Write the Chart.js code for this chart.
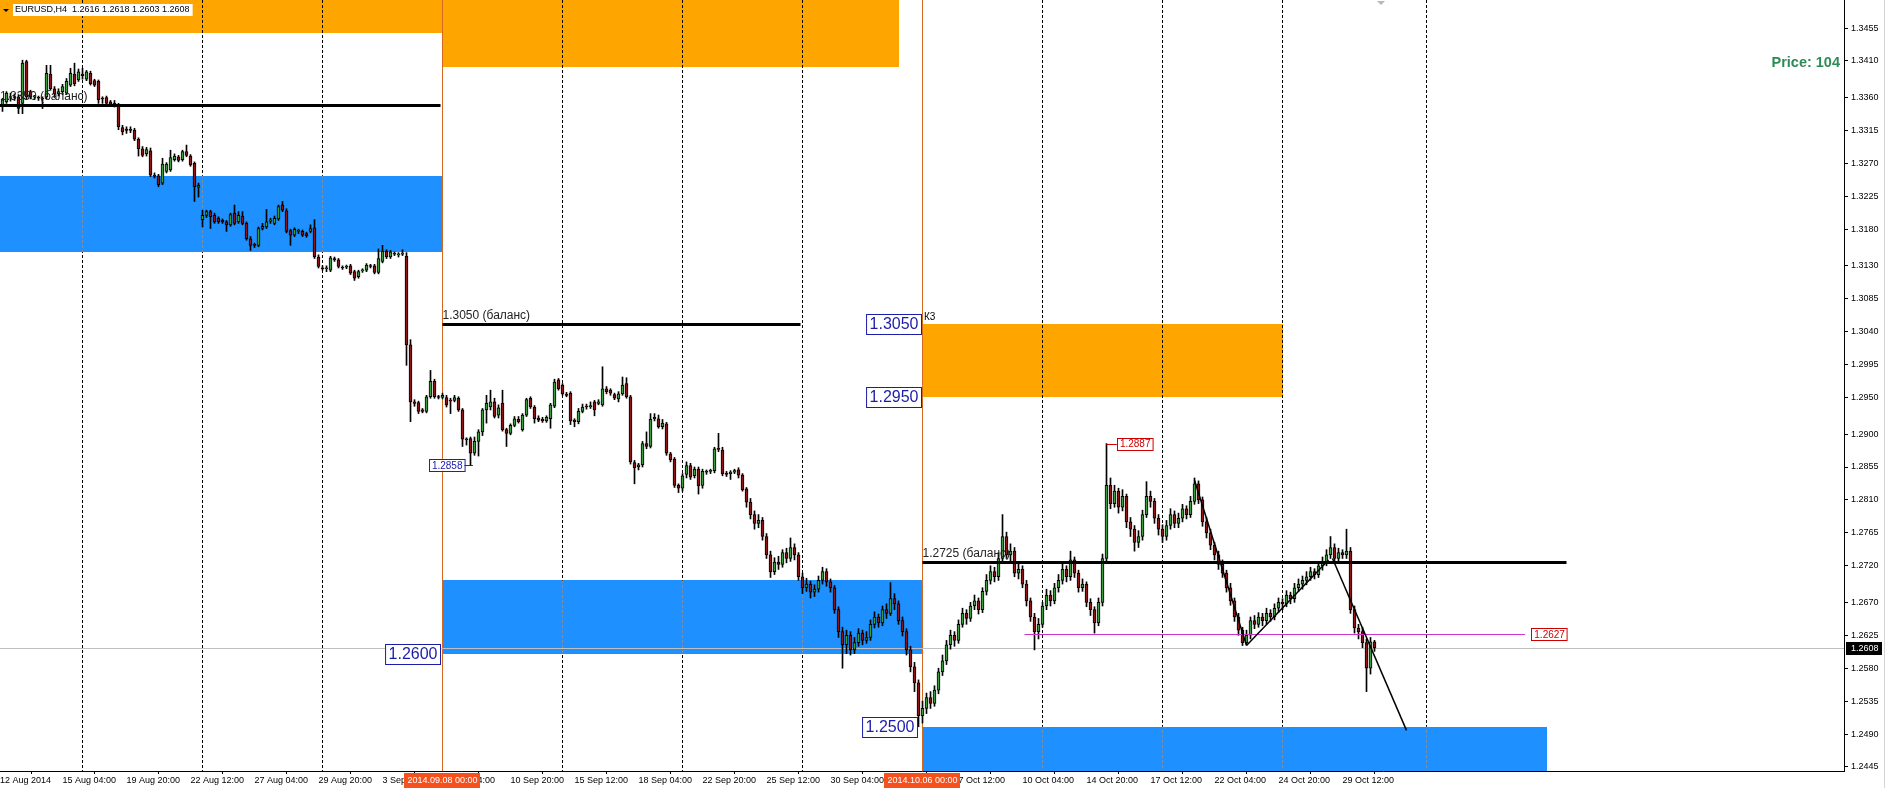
<!DOCTYPE html>
<html>
<head>
<meta charset="utf-8">
<script src="https://cdn.jsdelivr.net/npm/chart.js@4.4.0/dist/chart.umd.min.js"></script>
<style>
  html, body { margin: 0; padding: 0; background: #fff; overflow: hidden; }
  #wrap { position: relative; width: 1886px; height: 788px; }
</style>
</head>
<body>
<div id="wrap"><canvas id="chart"></canvas></div>
<script>
// EURUSD H4 candles, one entry per bar (bar 0 = 12 Aug 2014 ~16:00)
const opens = [
  1.3350,1.3354,1.3360,1.3361,1.3361,1.3352,1.3409,1.3368,1.3361,1.3360,1.3359,1.3361,1.3392,1.3372,1.3365,1.3368,1.3366,1.3377,1.3392,1.3384,
  1.3392,1.3385,1.3393,1.3383,1.3382,1.3359,1.3360,1.3354,1.3352,1.3350,1.3319,1.3317,1.3316,1.3315,1.3303,1.3290,1.3283,1.3287,1.3254,1.3253,
  1.3243,1.3259,1.3261,1.3275,1.3279,1.3275,1.3286,1.3280,1.3270,1.3237,1.3193,1.3199,1.3204,1.3199,1.3195,1.3192,1.3190,1.3186,1.3202,1.3190,
  1.3198,1.3188,1.3167,1.3159,1.3158,1.3181,1.3183,1.3191,1.3188,1.3194,1.3213,1.3205,1.3178,1.3172,1.3177,1.3177,1.3174,1.3177,1.3182,1.3142,
  1.3127,1.3126,1.3124,1.3140,1.3138,1.3128,1.3128,1.3130,1.3122,1.3115,1.3123,1.3124,1.3130,1.3130,1.3121,1.3136,1.3150,1.3142,1.3147,1.3145,
  1.3146,1.3143,1.3022,1.2944,1.2943,1.2933,1.2931,1.2951,1.2972,1.2951,1.2950,1.2950,1.2946,1.2946,1.2949,1.2933,1.2893,1.2894,1.2874,1.2890,
  1.2903,1.2933,1.2937,1.2944,1.2926,1.2942,1.2906,1.2901,1.2912,1.2920,1.2906,1.2926,1.2949,1.2937,1.2922,1.2920,1.2918,1.2921,1.2938,1.2974,
  1.2967,1.2954,1.2956,1.2919,1.2917,1.2931,1.2938,1.2937,1.2944,1.2942,1.2940,1.2962,1.2960,1.2954,1.2948,1.2955,1.2969,1.2951,1.2861,1.2855,
  1.2858,1.2887,1.2883,1.2921,1.2921,1.2910,1.2914,1.2873,1.2866,1.2830,1.2826,1.2845,1.2857,1.2843,1.2852,1.2830,1.2849,1.2849,1.2850,1.2880,
  1.2878,1.2846,1.2846,1.2848,1.2851,1.2844,1.2825,
  1.2807,1.2790,1.2778,1.2782,1.2760,1.2735,1.2712,1.2725,1.2722,1.2738,1.2730,1.2745,1.2735,1.2705,1.2690,1.2695,1.2684,1.2688,1.2700,1.2712,
  1.2698,1.2690,1.2660,1.2630,1.2612,1.2625,1.2605,1.2615,1.2628,1.2618,1.2622,1.2640,1.2650,1.2642,1.2660,1.2655,1.2675,1.2668,1.2645,1.2630,
  1.2605,1.2582,1.2560,1.2515,1.2525,1.2540,1.2532,1.2550,1.2575,1.2590,1.2612,1.2625,1.2618,1.2640,1.2655,1.2648,1.2665,1.2672,1.2660,1.2685,
  1.2700,1.2712,1.2705,1.2730,1.2760,1.2735,1.2740,1.2710,1.2715,1.2695,1.2672,1.2650,1.2630,1.2640,1.2665,1.2680,1.2672,1.2690,1.2700,1.2715,
  1.2705,1.2728,1.2710,1.2690,1.2695,1.2670,1.2660,1.2642,1.2670,1.2730,1.2830,1.2805,1.2822,1.2800,1.2815,1.2780,1.2770,1.2752,1.2760,1.2790,
  1.2815,1.2808,1.2785,1.2770,1.2760,1.2775,1.2790,1.2778,1.2785,1.2798,1.2790,1.2808,1.2832,1.2810,1.2780,1.2765,1.2748,1.2735,1.2722,1.2710,
  1.2690,1.2672,1.2650,1.2632,1.2615,1.2625,1.2645,1.2640,1.2650,1.2645,1.2655,1.2650,1.2662,1.2670,1.2668,1.2680,1.2675,1.2690,1.2695,1.2700,
  1.2705,1.2712,1.2708,1.2720,1.2725,1.2735,1.2745,1.2730,1.2738,1.2735,1.2740,1.2660,1.2635,1.2630,1.2615,1.2580,1.2616
];
const highs = [
  1.3359,1.3368,1.3366,1.3365,1.3364,1.3411,1.3411,1.3370,1.3363,1.3362,1.3361,1.3404,1.3404,1.3375,1.3372,1.3378,1.3386,1.3400,1.3407,1.3399,
  1.3400,1.3397,1.3396,1.3385,1.3384,1.3361,1.3362,1.3356,1.3356,1.3352,1.3322,1.3320,1.3320,1.3318,1.3305,1.3293,1.3292,1.3291,1.3257,1.3255,
  1.3277,1.3271,1.3288,1.3283,1.3281,1.3288,1.3295,1.3282,1.3272,1.3243,1.3206,1.3206,1.3206,1.3202,1.3197,1.3194,1.3192,1.3202,1.3213,1.3204,
  1.3204,1.3190,1.3170,1.3161,1.3183,1.3188,1.3207,1.3195,1.3198,1.3213,1.3218,1.3208,1.3180,1.3182,1.3180,1.3179,1.3176,1.3186,1.3193,1.3145,
  1.3130,1.3130,1.3143,1.3142,1.3140,1.3130,1.3131,1.3132,1.3124,1.3124,1.3126,1.3133,1.3132,1.3132,1.3153,1.3158,1.3152,1.3151,1.3149,1.3148,
  1.3152,1.3148,1.3029,1.2947,1.2945,1.2935,1.2953,1.2987,1.2975,1.2953,1.2956,1.2953,1.2949,1.2953,1.2951,1.2935,1.2895,1.2896,1.2896,1.2906,
  1.2935,1.2953,1.2960,1.2949,1.2940,1.2960,1.2908,1.2914,1.2924,1.2924,1.2928,1.2949,1.2951,1.2939,1.2925,1.2923,1.2925,1.2942,1.2975,1.2976,
  1.2969,1.2957,1.2958,1.2921,1.2935,1.2941,1.2941,1.2944,1.2946,1.2947,1.2992,1.2965,1.2962,1.2956,1.2958,1.2978,1.2977,1.2953,1.2864,1.2860,
  1.2890,1.2903,1.2928,1.2928,1.2926,1.2920,1.2916,1.2875,1.2868,1.2832,1.2846,1.2862,1.2860,1.2855,1.2855,1.2852,1.2851,1.2852,1.2882,1.2901,
  1.2882,1.2849,1.2850,1.2852,1.2854,1.2846,1.2827,
  1.2812,1.2795,1.2790,1.2786,1.2764,1.2740,1.2731,1.2733,1.2742,1.2744,1.2758,1.2750,1.2738,1.2710,1.2703,1.2699,1.2694,1.2706,1.2718,1.2716,
  1.2702,1.2693,1.2664,1.2636,1.2632,1.2630,1.2622,1.2634,1.2632,1.2630,1.2646,1.2657,1.2654,1.2665,1.2668,1.2697,1.2682,1.2672,1.2650,1.2634,
  1.2610,1.2588,1.2564,1.2535,1.2546,1.2548,1.2556,1.2580,1.2598,1.2618,1.2632,1.2630,1.2646,1.2662,1.2660,1.2670,1.2680,1.2676,1.2690,1.2708,
  1.2720,1.2718,1.2738,1.2790,1.2766,1.2750,1.2745,1.2722,1.2720,1.2700,1.2676,1.2655,1.2648,1.2670,1.2688,1.2686,1.2696,1.2708,1.2722,1.2720,
  1.2740,1.2732,1.2714,1.2702,1.2698,1.2675,1.2664,1.2676,1.2736,1.2887,1.2840,1.2830,1.2826,1.2824,1.2818,1.2786,1.2775,1.2768,1.2796,1.2835,
  1.2822,1.2812,1.2790,1.2776,1.2782,1.2798,1.2795,1.2792,1.2804,1.2802,1.2815,1.2840,1.2836,1.2814,1.2786,1.2770,1.2752,1.2740,1.2728,1.2714,
  1.2696,1.2676,1.2655,1.2636,1.2632,1.2650,1.2652,1.2656,1.2655,1.2662,1.2660,1.2668,1.2676,1.2675,1.2686,1.2684,1.2696,1.2702,1.2706,1.2712,
  1.2718,1.2716,1.2726,1.2732,1.2742,1.2760,1.2750,1.2744,1.2742,1.2770,1.2745,1.2665,1.2640,1.2636,1.2620,1.2622,1.2618
];
const lows = [
  1.3341,1.3352,1.3355,1.3356,1.3338,1.3338,1.3358,1.3358,1.3357,1.3356,1.3345,1.3358,1.3370,1.3360,1.3362,1.3364,1.3364,1.3375,1.3376,1.3382,
  1.3385,1.3383,1.3377,1.3375,1.3352,1.3352,1.3350,1.3349,1.3347,1.3316,1.3309,1.3311,1.3312,1.3301,1.3280,1.3279,1.3280,1.3252,1.3250,1.3238,
  1.3241,1.3257,1.3259,1.3273,1.3272,1.3273,1.3279,1.3266,1.3218,1.3224,1.3183,1.3196,1.3181,1.3188,1.3188,1.3188,1.3177,1.3184,1.3186,1.3188,
  1.3186,1.3165,1.3151,1.3155,1.3156,1.3179,1.3181,1.3188,1.3186,1.3192,1.3204,1.3175,1.3158,1.3170,1.3174,1.3170,1.3169,1.3175,1.3140,1.3127,
  1.3124,1.3122,1.3122,1.3136,1.3127,1.3125,1.3126,1.3118,1.3110,1.3113,1.3121,1.3122,1.3127,1.3119,1.3119,1.3134,1.3140,1.3140,1.3144,1.3142,
  1.3144,1.2994,1.2917,1.2938,1.2928,1.2929,1.2929,1.2949,1.2949,1.2948,1.2948,1.2937,1.2928,1.2944,1.2931,1.2883,1.2885,1.2858,1.2871,1.2870,
  1.2898,1.2915,1.2933,1.2922,1.2922,1.2904,1.2883,1.2899,1.2910,1.2915,1.2904,1.2924,1.2935,1.2915,1.2917,1.2916,1.2916,1.2908,1.2936,1.2960,
  1.2953,1.2951,1.2913,1.2910,1.2914,1.2929,1.2934,1.2935,1.2925,1.2940,1.2938,1.2955,1.2953,1.2947,1.2944,1.2953,1.2949,1.2859,1.2832,1.2851,
  1.2855,1.2880,1.2881,1.2918,1.2908,1.2907,1.2871,1.2862,1.2827,1.2820,1.2822,1.2840,1.2838,1.2840,1.2818,1.2826,1.2845,1.2846,1.2847,1.2876,
  1.2843,1.2842,1.2838,1.2846,1.2840,1.2822,1.2800,
  1.2784,1.2770,1.2772,1.2755,1.2730,1.2704,1.2708,1.2715,1.2718,1.2724,1.2726,1.2728,1.2700,1.2682,1.2685,1.2676,1.2678,1.2684,1.2695,1.2692,
  1.2684,1.2655,1.2622,1.2580,1.2600,1.2598,1.2600,1.2610,1.2612,1.2614,1.2618,1.2635,1.2636,1.2638,1.2648,1.2652,1.2660,1.2640,1.2624,1.2598,
  1.2575,1.2548,1.2500,1.2505,1.2518,1.2525,1.2528,1.2545,1.2570,1.2585,1.2606,1.2610,1.2614,1.2636,1.2640,1.2644,1.2660,1.2654,1.2656,1.2680,
  1.2695,1.2698,1.2700,1.2725,1.2730,1.2726,1.2705,1.2702,1.2690,1.2665,1.2644,1.2605,1.2620,1.2636,1.2660,1.2665,1.2668,1.2684,1.2695,1.2698,
  1.2700,1.2704,1.2684,1.2685,1.2664,1.2652,1.2628,1.2638,1.2665,1.2725,1.2798,1.2800,1.2792,1.2795,1.2772,1.2760,1.2740,1.2745,1.2755,1.2786,
  1.2800,1.2778,1.2762,1.2752,1.2755,1.2770,1.2772,1.2772,1.2780,1.2784,1.2786,1.2804,1.2805,1.2774,1.2758,1.2742,1.2728,1.2715,1.2704,1.2684,
  1.2666,1.2644,1.2625,1.2611,1.2612,1.2620,1.2634,1.2636,1.2638,1.2640,1.2644,1.2646,1.2656,1.2660,1.2664,1.2668,1.2670,1.2685,1.2688,1.2694,
  1.2700,1.2702,1.2704,1.2714,1.2720,1.2730,1.2724,1.2726,1.2730,1.2730,1.2655,1.2628,1.2620,1.2608,1.2548,1.2572,1.2603
];
const closes = [
  1.3357,1.3366,1.3361,1.3360,1.3345,1.3407,1.3361,1.3361,1.3361,1.3359,1.3358,1.3393,1.3372,1.3365,1.3368,1.3375,1.3382,1.3393,1.3379,1.3395,
  1.3390,1.3395,1.3379,1.3377,1.3357,1.3358,1.3352,1.3351,1.3350,1.3320,1.3313,1.3315,1.3315,1.3303,1.3290,1.3281,1.3289,1.3254,1.3252,1.3241,
  1.3269,1.3269,1.3278,1.3280,1.3274,1.3286,1.3281,1.3268,1.3238,1.3240,1.3199,1.3204,1.3197,1.3190,1.3190,1.3190,1.3186,1.3200,1.3188,1.3199,
  1.3188,1.3167,1.3158,1.3158,1.3181,1.3184,1.3190,1.3192,1.3195,1.3211,1.3206,1.3177,1.3172,1.3180,1.3177,1.3172,1.3171,1.3181,1.3142,1.3129,
  1.3126,1.3127,1.3141,1.3138,1.3129,1.3127,1.3129,1.3120,1.3113,1.3122,1.3124,1.3131,1.3129,1.3121,1.3140,1.3150,1.3142,1.3149,1.3146,1.3145,
  1.3147,1.3022,1.2944,1.2942,1.2931,1.2931,1.2951,1.2972,1.2951,1.2950,1.2953,1.2940,1.2945,1.2950,1.2933,1.2893,1.2892,1.2874,1.2890,1.2903,
  1.2933,1.2942,1.2944,1.2924,1.2936,1.2906,1.2901,1.2912,1.2921,1.2917,1.2926,1.2947,1.2937,1.2921,1.2919,1.2918,1.2923,1.2940,1.2971,1.2962,
  1.2955,1.2953,1.2918,1.2917,1.2931,1.2937,1.2937,1.2939,1.2933,1.2944,1.2962,1.2958,1.2956,1.2949,1.2955,1.2967,1.2951,1.2862,1.2854,1.2858,
  1.2887,1.2883,1.2920,1.2923,1.2910,1.2915,1.2874,1.2865,1.2830,1.2826,1.2843,1.2857,1.2841,1.2852,1.2829,1.2849,1.2848,1.2850,1.2880,1.2879,
  1.2846,1.2845,1.2848,1.2850,1.2844,1.2824,1.2807,
  1.2790,1.2778,1.2782,1.2760,1.2735,1.2712,1.2725,1.2722,1.2738,1.2730,1.2745,1.2735,1.2705,1.2690,1.2695,1.2684,1.2688,1.2700,1.2712,1.2698,
  1.2690,1.2660,1.2630,1.2612,1.2625,1.2605,1.2615,1.2628,1.2618,1.2622,1.2640,1.2650,1.2642,1.2660,1.2655,1.2675,1.2668,1.2645,1.2630,1.2605,
  1.2582,1.2560,1.2515,1.2525,1.2540,1.2532,1.2550,1.2575,1.2590,1.2612,1.2625,1.2618,1.2640,1.2655,1.2648,1.2665,1.2672,1.2660,1.2685,1.2700,
  1.2712,1.2705,1.2730,1.2760,1.2735,1.2740,1.2710,1.2715,1.2695,1.2672,1.2650,1.2630,1.2640,1.2665,1.2680,1.2672,1.2690,1.2700,1.2715,1.2705,
  1.2728,1.2710,1.2690,1.2695,1.2670,1.2660,1.2642,1.2670,1.2730,1.2830,1.2805,1.2822,1.2800,1.2815,1.2780,1.2770,1.2752,1.2760,1.2790,1.2815,
  1.2808,1.2785,1.2770,1.2760,1.2775,1.2790,1.2778,1.2785,1.2798,1.2790,1.2808,1.2832,1.2810,1.2780,1.2765,1.2748,1.2735,1.2722,1.2710,1.2690,
  1.2672,1.2650,1.2632,1.2615,1.2625,1.2645,1.2640,1.2650,1.2645,1.2655,1.2650,1.2662,1.2670,1.2668,1.2680,1.2675,1.2690,1.2695,1.2700,1.2705,
  1.2712,1.2708,1.2720,1.2725,1.2735,1.2745,1.2730,1.2738,1.2735,1.2740,1.2660,1.2635,1.2630,1.2615,1.2580,1.2616,1.2608
];

const priceTicks = [1.3455,1.3410,1.3360,1.3315,1.3270,1.3225,1.3180,1.3130,1.3085,1.3040,1.2995,1.2950,
  1.2900,1.2855,1.2810,1.2765,1.2720,1.2670,1.2625,1.2580,1.2535,1.2490,1.2445];
const timeTickBars = [-0.625,15,31,47,63,79,95,111,127,143,159,175,191,207,223,239,255,271,287,303,319,335];
const timeTickLabels = ['12 Aug 2014','15 Aug 04:00','19 Aug 20:00','22 Aug 12:00','27 Aug 04:00','29 Aug 20:00',
  '3 Sep 12:00','8 Sep 04:00','10 Sep 20:00','15 Sep 12:00','18 Sep 04:00','22 Sep 20:00','25 Sep 12:00',
  '30 Sep 04:00','2 Oct 20:00','7 Oct 12:00','10 Oct 04:00','14 Oct 20:00','17 Oct 12:00','22 Oct 04:00',
  '24 Oct 20:00','29 Oct 12:00'];
const gridBars = [20,50,80,140,170,200,260,290,320,356];
const periodMarks = [{bar:110, text:'2014.09.08 00:00'}, {bar:230, text:'2014.10.06 00:00'}];

const lastPrice = 1.2608;
const header = 'EURUSD,H4  1.2616 1.2618 1.2603 1.2608';

const ORANGE = '#ffa500', BLUE = '#1e90ff';
const zones = [
  {from:-0.625, to:110, top:1.3500, bottom:1.3448, color:ORANGE},
  {from:110, to:224, top:1.3500, bottom:1.3402, color:ORANGE},
  {from:-0.625, to:110, top:1.3253, bottom:1.3149, color:BLUE},
  {from:110, to:230, top:1.2700, bottom:1.2600, color:BLUE},
  {from:230, to:320, top:1.3050, bottom:1.2950, color:ORANGE},
  {from:230, to:386, top:1.2500, bottom:1.2400, color:BLUE}
];
const balanceLines = [
  {from:-0.625, to:109.5, price:1.3350, text:'1.3350 (баланс)'},
  {from:110, to:199.5, price:1.3050, text:'1.3050 (баланс)'},
  {from:230, to:391, price:1.2725, text:'1.2725 (баланс)'}
];
const levelTags = [
  {right:229.6, price:1.3050, text:'1.3050'},
  {right:229.6, price:1.2950, text:'1.2950'},
  {right:109.4, price:1.2600, text:'1.2600'},
  {right:228.6, price:1.2500, text:'1.2500'}
];
const trendLines = [
  [298, 1.2837, 311, 1.2611],
  [311, 1.2611, 331.5, 1.2728],
  [332.5, 1.2730, 351, 1.2495]
];

const UP = '#3e9a3e', DOWN = '#8c1414';
const bars = closes.map((c, i) => i);

const overlay = {
  id: 'overlay',
  beforeDatasetsDraw(chart) {
    const {ctx, chartArea: a, scales: {x, y}} = chart;
    ctx.save();
    ctx.beginPath();
    ctx.rect(a.left, a.top, a.right - a.left, a.bottom - a.top);
    ctx.clip();
    zones.forEach(z => {
      const x0 = Math.round(x.getPixelForValue(z.from)), x1 = Math.round(x.getPixelForValue(z.to));
      const y0 = Math.round(y.getPixelForValue(z.top)), y1 = Math.round(y.getPixelForValue(z.bottom));
      ctx.fillStyle = z.color;
      ctx.fillRect(x0, y0, x1 - x0, y1 - y0);
    });
    // dashed time grid (grey where it crosses the blue zones)
    ctx.lineWidth = 1;
    ctx.setLineDash([3, 2]);
    gridBars.forEach(b => {
      const px = Math.floor(x.getPixelForValue(b)) + 0.5;
      ctx.strokeStyle = '#000';
      ctx.beginPath(); ctx.moveTo(px, a.top); ctx.lineTo(px, a.bottom); ctx.stroke();
      zones.filter(z => z.color === BLUE && b > z.from && b < z.to).forEach(z => {
        const y0 = y.getPixelForValue(z.top), y1 = y.getPixelForValue(z.bottom);
        ctx.save();
        ctx.beginPath(); ctx.rect(px - 2, y0, 4, y1 - y0); ctx.clip();
        ctx.strokeStyle = '#7f8f9f';
        ctx.beginPath(); ctx.moveTo(px, a.top); ctx.lineTo(px, a.bottom); ctx.stroke();
        ctx.restore();
      });
    });
    ctx.setLineDash([]);
    // period separators
    ctx.strokeStyle = '#d2691e';
    periodMarks.forEach(m => {
      const px = Math.floor(x.getPixelForValue(m.bar)) + 0.5;
      ctx.beginPath(); ctx.moveTo(px, a.top); ctx.lineTo(px, a.bottom); ctx.stroke();
    });
    // bid line
    const py = Math.round(y.getPixelForValue(lastPrice)) + 0.5;
    ctx.strokeStyle = '#c0c0c0';
    ctx.beginPath(); ctx.moveTo(a.left, py); ctx.lineTo(a.right, py); ctx.stroke();
    ctx.restore();
  },
  afterDatasetsDraw(chart) {
    const {ctx, chartArea: a, scales: {x, y}} = chart;
    ctx.save();
    ctx.beginPath();
    ctx.rect(a.left, a.top, a.right - a.left, a.bottom - a.top);
    ctx.clip();
    ctx.textBaseline = 'alphabetic';
    // balance levels
    balanceLines.forEach(l => {
      const x0 = x.getPixelForValue(l.from), x1 = x.getPixelForValue(l.to);
      const py = Math.round(y.getPixelForValue(l.price)) + 0.5;
      ctx.strokeStyle = '#000'; ctx.lineWidth = 3;
      ctx.beginPath(); ctx.moveTo(x0, py); ctx.lineTo(x1, py); ctx.stroke();
      ctx.fillStyle = '#222'; ctx.font = '12px "Liberation Sans"'; ctx.textAlign = 'left';
      ctx.fillText(l.text, Math.max(x0, 0), py - 6);
    });
    // К3 mark
    ctx.fillStyle = '#000'; ctx.font = '10px "Liberation Sans"';
    ctx.fillText('К3', x.getPixelForValue(230) + 1.5, y.getPixelForValue(1.3050) - 4);
    // magenta support
    const mY = Math.round(y.getPixelForValue(1.2627)) + 0.5;
    ctx.strokeStyle = '#cc33cc'; ctx.lineWidth = 1;
    ctx.beginPath(); ctx.moveTo(x.getPixelForValue(255.5), mY); ctx.lineTo(x.getPixelForValue(380.6), mY); ctx.stroke();
    // trend lines
    ctx.strokeStyle = '#000'; ctx.lineWidth = 1.5;
    trendLines.forEach(t => {
      ctx.beginPath();
      ctx.moveTo(x.getPixelForValue(t[0]), y.getPixelForValue(t[1]));
      ctx.lineTo(x.getPixelForValue(t[2]), y.getPixelForValue(t[3]));
      ctx.stroke();
    });
    // big blue level tags
    ctx.font = '16px "Liberation Sans"'; ctx.textBaseline = 'middle';
    levelTags.forEach(t => {
      const w = ctx.measureText(t.text).width + 6;
      const xr = Math.round(x.getPixelForValue(t.right)) + 0.5;
      const yc = Math.round(y.getPixelForValue(t.price));
      ctx.fillStyle = '#fff'; ctx.fillRect(xr - w, yc - 10, w, 20);
      ctx.strokeStyle = '#1c1caa'; ctx.lineWidth = 1; ctx.strokeRect(xr - w, yc - 10 + 0.5, w, 20);
      ctx.fillStyle = '#1c1caa'; ctx.textAlign = 'right';
      ctx.fillText(t.text, xr - 3, yc + 1);
    });
    // small price tags
    const tag = (text, xl, yc, col) => {
      ctx.font = '10px "Liberation Sans"';
      const w = ctx.measureText(text).width + 5;
      ctx.fillStyle = '#fff'; ctx.fillRect(xl, yc - 6, w, 12);
      ctx.strokeStyle = col; ctx.lineWidth = 1; ctx.strokeRect(Math.round(xl) + 0.5, Math.round(yc) - 5.5, w, 12);
      ctx.fillStyle = col; ctx.textAlign = 'left';
      ctx.fillText(text, xl + 3, yc + 1);
      return w;
    };
    const lowY = y.getPixelForValue(1.2858);
    const w1 = tag('1.2858', x.getPixelForValue(106.6), lowY, '#2020b0');
    ctx.strokeStyle = '#2020b0';
    ctx.beginPath(); ctx.moveTo(x.getPixelForValue(106.6) + w1, Math.round(lowY) + 0.5);
    ctx.lineTo(x.getPixelForValue(117.6), Math.round(lowY) + 0.5); ctx.stroke();
    const hiY = y.getPixelForValue(1.2887);
    ctx.strokeStyle = '#cc0000';
    ctx.beginPath(); ctx.moveTo(x.getPixelForValue(276), Math.round(hiY) + 0.5);
    ctx.lineTo(x.getPixelForValue(278.6), Math.round(hiY) + 0.5); ctx.stroke();
    tag('1.2887', x.getPixelForValue(278.6), hiY, '#cc0000');
    tag('1.2627', x.getPixelForValue(382.2), y.getPixelForValue(1.2627), '#cc0000');
    // info text
    ctx.font = 'bold 14.5px "Liberation Sans"'; ctx.fillStyle = '#2e8b57'; ctx.textAlign = 'right';
    ctx.fillText('Price: 104', a.right - 4, 63);
    ctx.restore();
  },
  afterDraw(chart) {
    const {ctx, chartArea: a, scales: {x, y}} = chart;
    ctx.save();
    ctx.font = '9px "Liberation Sans"'; ctx.textBaseline = 'middle';
    // period labels on the time axis
    periodMarks.forEach(m => {
      const px = x.getPixelForValue(m.bar);
      const w = ctx.measureText(m.text).width + 6;
      ctx.fillStyle = '#f4511e';
      ctx.fillRect(Math.round(px - w / 2), a.bottom + 2, Math.round(w), 15);
      ctx.fillStyle = '#fff'; ctx.textAlign = 'center';
      ctx.fillText(m.text, px, a.bottom + 10);
    });
    // bid label on price axis
    const py = Math.round(y.getPixelForValue(lastPrice));
    ctx.fillStyle = '#000';
    ctx.fillRect(a.right + 2, py - 6, 36, 13);
    ctx.fillStyle = '#fff'; ctx.textAlign = 'left';
    ctx.fillText(lastPrice.toFixed(4), a.right + 7, py + 1);
    // header
    ctx.fillStyle = '#000';
    ctx.beginPath(); ctx.moveTo(3, 9); ctx.lineTo(9, 9); ctx.lineTo(6, 12); ctx.closePath(); ctx.fill();
    const hw = ctx.measureText(header).width + 5;
    ctx.fillStyle = '#fff'; ctx.fillRect(13, 4, hw, 12);
    ctx.fillStyle = '#000'; ctx.fillText(header, 15, 10);
    // shift marker and window edge
    ctx.fillStyle = '#b8b8b8';
    ctx.beginPath(); ctx.moveTo(1377, 1); ctx.lineTo(1385, 1); ctx.lineTo(1381, 5); ctx.closePath(); ctx.fill();
    ctx.fillStyle = '#d4d4d4'; ctx.fillRect(1884, 0, 1, 788);
    ctx.restore();
  }
};

new Chart(document.getElementById('chart'), {
  type: 'bar',
  data: {
    datasets: [{
      label: 'wick',
      data: bars.map(i => ({x: i, y: [lows[i], highs[i]]})),
      backgroundColor: '#000',
      barThickness: 1,
      grouped: false,
      order: 2
    }, {
      label: 'body',
      data: bars.map(i => ({x: i, y: [opens[i], closes[i]]})),
      backgroundColor: bars.map(i => closes[i] >= opens[i] ? UP : DOWN),
      borderColor: '#000',
      borderWidth: 1,
      borderSkipped: false,
      barThickness: 3,
      minBarLength: 1,
      grouped: false,
      order: 1
    }]
  },
  options: {
    responsive: true,
    maintainAspectRatio: false,
    animation: false,
    events: [],
    layout: { padding: 0 },
    plugins: { legend: { display: false }, tooltip: { enabled: false } },
    scales: {
      x: {
        type: 'linear',
        offset: false,
        min: -0.625,
        max: 460.375,
        afterBuildTicks: s => { s.ticks = timeTickBars.map(v => ({value: v})); },
        afterFit: s => { s.height = 17; s.paddingLeft = 0; s.paddingRight = 0; },
        ticks: {
          autoSkip: false, maxRotation: 0, minRotation: 0, align: 'start', padding: 1,
          color: '#000', font: {family: 'Liberation Sans', size: 9},
          callback: (v, i) => timeTickLabels[i]
        },
        grid: { display: true, drawOnChartArea: false, drawTicks: true, tickLength: 3, color: '#000' },
        border: { display: true, color: '#000' }
      },
      y: {
        type: 'linear',
        position: 'right',
        min: 1.24395,
        max: 1.34933,
        afterBuildTicks: s => { s.ticks = priceTicks.map(v => ({value: v})); },
        afterFit: s => { s.width = 42; s.paddingTop = 0; s.paddingBottom = 0; },
        ticks: {
          padding: 3, color: '#000', font: {family: 'Liberation Sans', size: 9},
          callback: v => v.toFixed(4)
        },
        grid: { display: true, drawOnChartArea: false, drawTicks: true, tickLength: 4, color: '#000' },
        border: { display: true, color: '#000' }
      }
    }
  },
  plugins: [overlay]
});
</script>
</body>
</html>
